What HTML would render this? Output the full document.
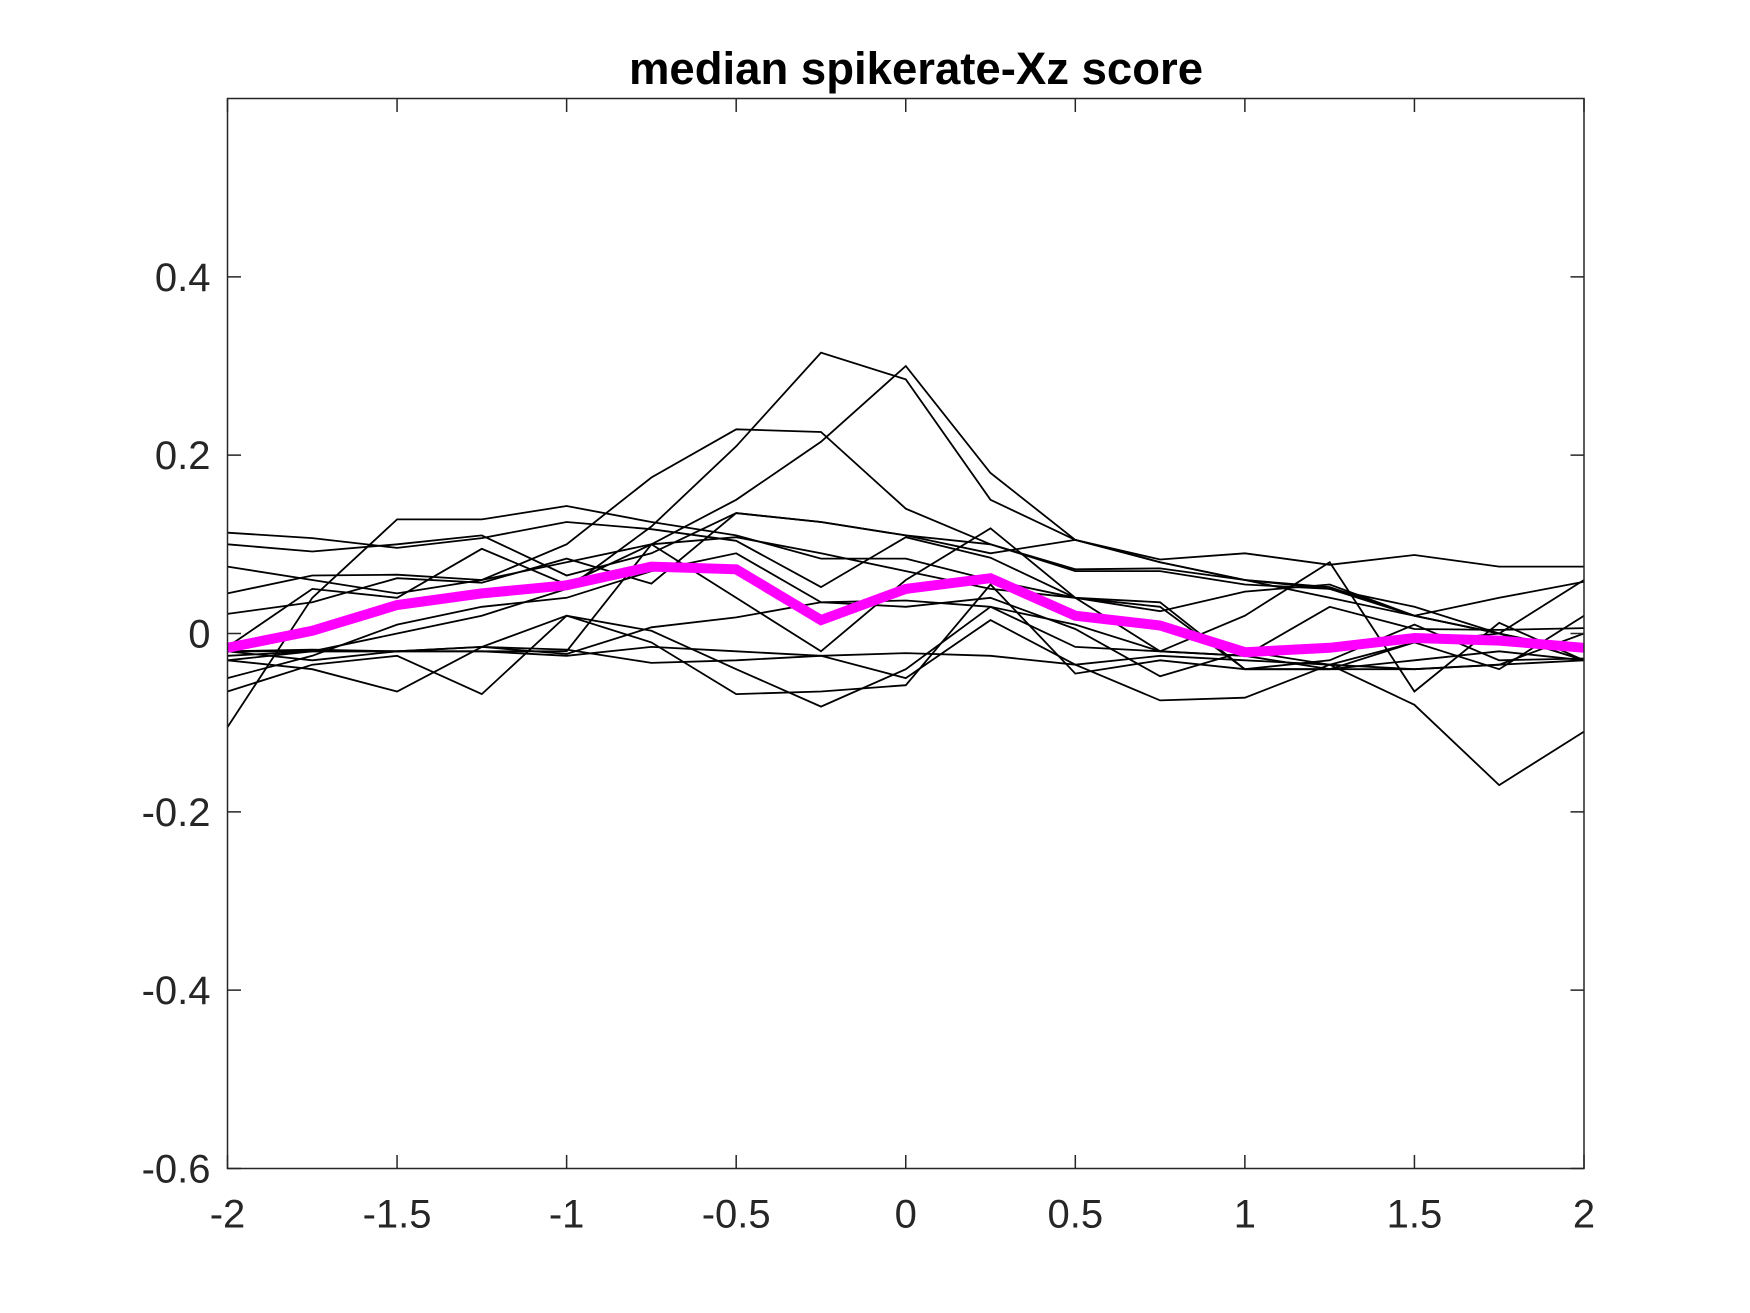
<!DOCTYPE html>
<html><head><meta charset="utf-8"><style>
html,body{margin:0;padding:0;background:#fff;}
svg{display:block;}
text{font-family:"Liberation Sans",Arial,sans-serif;fill:#262626;}
</style></head><body>
<svg id="chart" width="1750" height="1313" viewBox="0 0 1750 1313" xmlns="http://www.w3.org/2000/svg">
<rect width="1750" height="1313" fill="#fff"/>
<text x="916" y="84" font-size="45.5" font-weight="bold" text-anchor="middle" style="fill:#000">median spikerate-Xz score</text>
<g id="lines"></g>
<g id="axes"></g>
</svg>
<script>
const xValues = [-2,-1.75,-1.5,-1.25,-1,-0.75,-0.5,-0.25,0,0.25,0.5,0.75,1,1.25,1.5,1.75,2];
const xTicks = [-2,-1.5,-1,-0.5,0,0.5,1,1.5,2];
const xTickLabels = ["-2","-1.5","-1","-0.5","0","0.5","1","1.5","2"];
const yTicks = [-0.6,-0.4,-0.2,0,0.2,0.4];
const yTickLabels = ["-0.6","-0.4","-0.2","0","0.2","0.4"];
const medianValues = [-0.016,0.003,0.032,0.045,0.054,0.075,0.072,0.015,0.05,0.062,0.02,0.009,-0.021,-0.016,-0.005,-0.008,-0.016];
const unit1 = [-0.03,-0.02,0.0,0.02,0.05,0.12,0.21,0.315,0.285,0.15,0.105,0.08,0.06,0.04,0.02,0.0,-0.02];
const unit2 = [-0.02,-0.02,-0.02,-0.02,-0.02,0.1,0.15,0.215,0.3,0.18,0.105,0.08,0.06,0.05,0.03,0.0,-0.02];
const unit3 = [0.075,0.06,0.045,0.06,0.1,0.175,0.229,0.226,0.14,0.1,0.07,0.07,0.055,0.05,0.02,0.0,-0.03];
const unit4 = [-0.105,0.04,0.128,0.128,0.143,0.125,0.11,0.084,0.084,0.06,0.04,0.03,-0.04,-0.04,-0.03,-0.02,-0.03];
const unit5 = [0.113,0.107,0.096,0.107,0.125,0.117,0.104,0.052,0.108,0.085,0.04,0.035,-0.04,-0.04,-0.01,0.0,-0.03];
const unit6 = [0.1,0.092,0.1,0.11,0.065,0.09,0.135,0.125,0.11,0.1,0.072,0.073,0.06,0.052,0.02,0.0,0.06];
const unit7 = [0.045,0.065,0.066,0.06,0.08,0.1,0.108,0.09,0.07,0.05,0.04,0.025,0.047,0.055,0.02,0.04,0.058];
const unit8 = [0.022,0.035,0.062,0.057,0.084,0.056,0.135,0.125,0.11,0.09,0.105,0.083,0.09,0.077,0.088,0.075,0.075];
const unit9 = [-0.015,0.05,0.04,0.095,0.055,0.1,0.04,-0.02,0.06,0.118,0.04,-0.02,0.02,0.08,-0.065,0.012,-0.03];
const unit10 = [-0.02,-0.018,-0.02,-0.02,-0.025,-0.015,-0.02,-0.025,-0.022,-0.025,-0.035,-0.025,-0.03,-0.035,-0.04,-0.035,-0.03];
const unit11 = [-0.03,-0.04,-0.065,-0.015,0.02,-0.01,-0.068,-0.065,-0.058,0.055,-0.045,-0.03,-0.04,-0.03,0.01,-0.03,-0.028];
const unit12 = [-0.065,-0.035,-0.025,-0.068,0.02,0.003,-0.04,-0.082,-0.04,0.03,0.01,-0.02,-0.025,0.03,0.005,0.004,0.006];
const unit13 = [-0.05,-0.025,0.01,0.03,0.04,0.07,0.09,0.035,0.03,0.04,0.005,-0.048,-0.02,-0.035,-0.08,-0.17,-0.11];
const unit14 = [-0.025,-0.02,-0.02,-0.015,-0.023,0.007,0.018,0.035,0.037,0.03,-0.015,-0.02,-0.025,-0.04,-0.04,-0.035,0.0];
const unit15 = [-0.02,-0.03,-0.02,-0.015,-0.018,-0.033,-0.03,-0.025,-0.05,0.015,-0.035,-0.075,-0.072,-0.035,-0.01,-0.04,0.02];
const units = [unit1,unit2,unit3,unit4,unit5,unit6,unit7,unit8,unit9,unit10,unit11,unit12,unit13,unit14,unit15];

const L=227.5,R=1584,T=98.5,B=1168.5;
const xMin=-2,xMax=2,yMin=-0.6,yMax=0.6;
function sx(v){return L+(v-xMin)/(xMax-xMin)*(R-L);}
function sy(v){return B-(v-yMin)/(yMax-yMin)*(B-T);}
const NS="http://www.w3.org/2000/svg";
const lines=document.getElementById('lines');
const axes=document.getElementById('axes');
function pts(arr){return arr.map((v,i)=>sx(xValues[i]).toFixed(1)+','+sy(v).toFixed(1)).join(' ');}

units.forEach((u,k)=>{
  const p=document.createElementNS(NS,'polyline');
  p.setAttribute('points',pts(u));
  p.setAttribute('fill','none');p.setAttribute('stroke','#000');p.setAttribute('stroke-width','1.8');
  
  
  lines.appendChild(p);
});
const m=document.createElementNS(NS,'polyline');
m.setAttribute('points',pts(medianValues));
m.setAttribute('fill','none');m.setAttribute('stroke','#ff00ff');m.setAttribute('stroke-width','10');


lines.appendChild(m);

const box=document.createElementNS(NS,'rect');
box.setAttribute('x',L);box.setAttribute('y',T);box.setAttribute('width',R-L);box.setAttribute('height',B-T);
box.setAttribute('fill','none');box.setAttribute('stroke','#262626');box.setAttribute('stroke-width','1.5');


axes.appendChild(box);
const tl=13.5;
xTicks.forEach((v,i)=>{
  const x=sx(v);
  const t=document.createElementNS(NS,'path');
  t.setAttribute('d',`M${x},${B}V${B-tl}M${x},${T}V${T+tl}`);
  t.setAttribute('stroke','#262626');t.setAttribute('stroke-width','1.5');
  
  
  axes.appendChild(t);
  const s=document.createElementNS(NS,'text');
  s.setAttribute('x',x);s.setAttribute('y',B+59);s.setAttribute('font-size','40');s.setAttribute('text-anchor','middle');
  s.textContent=xTickLabels[i];
  
  
  axes.appendChild(s);
});
yTicks.forEach((v,i)=>{
  const y=sy(v);
  const t=document.createElementNS(NS,'path');
  t.setAttribute('d',`M${L},${y}H${L+tl}M${R},${y}H${R-tl}`);
  t.setAttribute('stroke','#262626');t.setAttribute('stroke-width','1.5');
  
  
  axes.appendChild(t);
  const s=document.createElementNS(NS,'text');
  s.setAttribute('x',L-17);s.setAttribute('y',y+14);s.setAttribute('font-size','40');s.setAttribute('text-anchor','end');
  s.textContent=yTickLabels[i];
  
  
  axes.appendChild(s);
});
</script>
</body></html>
